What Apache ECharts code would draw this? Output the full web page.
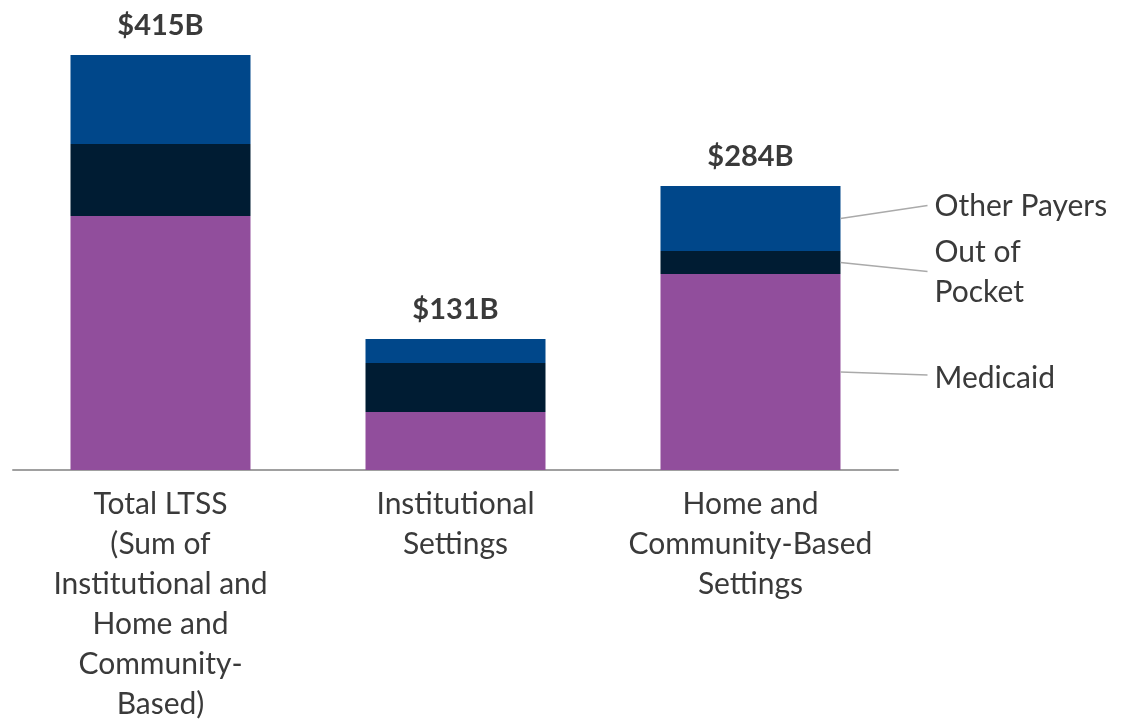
<!DOCTYPE html>
<html>
<head>
<meta charset="utf-8">
<script src="https://cdn.jsdelivr.net/npm/echarts@6/dist/echarts.min.js"></script>
<style>
html,body{margin:0;padding:0;background:#fff;}
#chart{width:1127px;height:724px;}
</style>
</head>
<body>
<div id="chart"></div>
<script>
// ---- data ----
var categories = [
  'Total LTSS\n(Sum of\nInstitutional and\nHome and\nCommunity-\nBased)',
  'Institutional\nSettings',
  'Home and\nCommunity-Based\nSettings'
];
var seriesNames = ['Medicaid', 'Out of Pocket', 'Other Payers'];
var seriesLabels = ['Medicaid', 'Out of\nPocket', 'Other Payers'];
var medicaid = [254, 58, 196];
var outOfPocket = [72, 49, 23];
var otherPayers = [89, 24, 65];
var totals = [415, 131, 284];
var totalLabels = ['$415B', '$131B', '$284B'];

// ---- styles ----
var colors = ['#914e9c', '#001c33', '#00478a'];
var FONT = 'Lato';
var TEXT = '#3a3a3a';
var BAR_W = 180;
var labelCat = 2;                 // category carrying the series labels
var lineDy = [3, 9, -13];         // leader-line end offsets (px)
var textDy = [3, 1, 1];           // text centre offset from line end (px)

var values = [medicaid, outOfPocket, otherPayers];

// leader-line data built from the series values
var leaderData = [];
var base = 0;
for (var s = 0; s < values.length; s++) {
  var v = values[s][labelCat];
  leaderData.push({ value: [labelCat, base + v / 2, lineDy[s], textDy[s]], text: seriesLabels[s] });
  base += v;
}

var series = [];
for (var i = 0; i < values.length; i++) {
  series.push({
    name: seriesNames[i],
    type: 'bar',
    stack: 'total',
    barWidth: BAR_W,
    barGap: '-100%',
    data: values[i],
    itemStyle: { color: colors[i] },
    silent: true
  });
}
series.push({
  name: 'Total',
  type: 'bar',
  barWidth: BAR_W,
  barGap: '-100%',
  data: totals,
  z: 1,
  itemStyle: { color: 'rgba(0,0,0,0)' },
  silent: true,
  label: {
    show: true,
    position: 'top',
    distance: 15,
    formatter: function (p) { return totalLabels[p.dataIndex]; },
    fontFamily: FONT,
    fontSize: 29,
    fontWeight: 'bold',
    color: TEXT
  }
});
series.push({
  type: 'custom',
  coordinateSystem: 'cartesian2d',
  silent: true,
  z: 5,
  data: leaderData,
  renderItem: function (params, api) {
    var pt = api.coord([api.value(0), api.value(1)]);
    var x0 = pt[0] + BAR_W / 2;
    var y0 = pt[1];
    var x1 = x0 + 87;
    var y1 = y0 + api.value(2);
    var text = leaderData[params.dataIndex].text;
    return {
      type: 'group',
      children: [
        { type: 'polyline', shape: { points: [[x0, y0], [x1, y1]] },
          style: { stroke: '#aaaaaa', lineWidth: 1.5, fill: null } },
        { type: 'text', x: x1 + 7, y: y1 + api.value(3),
          style: { text: text, fontFamily: FONT, fontSize: 30, lineHeight: 40,
                   fill: TEXT, align: 'left', verticalAlign: 'middle' } }
      ]
    };
  }
});

var chart = echarts.init(document.getElementById('chart'), null, { renderer: 'canvas' });
chart.setOption({
  animation: false,
  backgroundColor: '#ffffff',
  grid: { left: 13, right: 229, top: 30, bottom: 249, containLabel: false },
  xAxis: {
    type: 'category',
    data: categories,
    axisLine: { show: true, lineStyle: { color: '#a0a0a0', width: 2 } },
    axisTick: { show: false },
    axisLabel: {
      interval: 0,
      margin: 14,
      fontFamily: FONT,
      fontSize: 30,
      lineHeight: 40,
      color: TEXT,
      align: 'center'
    }
  },
  yAxis: {
    type: 'value',
    min: 0,
    max: 440,
    show: false,
    splitLine: { show: false }
  },
  series: series
});
</script>
</body>
</html>
